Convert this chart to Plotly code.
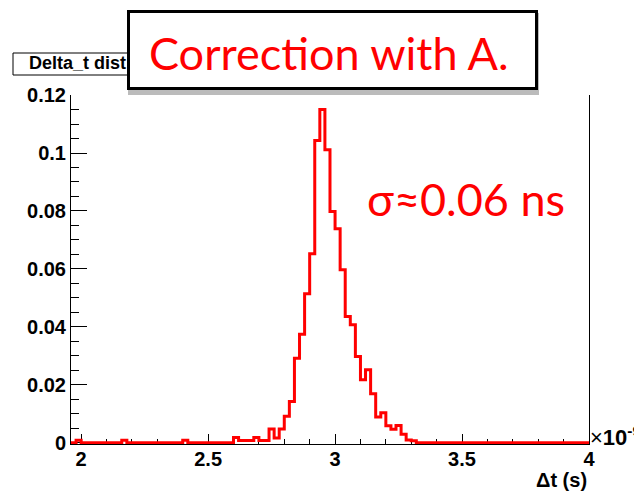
import numpy as np
import plotly.graph_objects as go

# ---- data ----
bin_start = 1.96          # x10^-9 s
bin_width = 0.02
density = [
    0, 0.0009, 0, 0, 0, 0, 0, 0, 0, 0,                                   # 1.96 .. 2.14
    0.0009, 0, 0, 0, 0, 0, 0, 0, 0, 0,                                   # 2.16 .. 2.34
    0, 0, 0.0009, 0, 0, 0, 0, 0, 0, 0,                                   # 2.36 .. 2.54
    0, 0, 0.0018, 0.0008, 0.0008, 0.0008, 0.0018, 0.0008, 0.0008, 0.0048, # 2.56 .. 2.74
    0.0017, 0.0048, 0.0092, 0.0143, 0.0292, 0.0375, 0.0514, 0.0652, 0.1043, 0.1150,  # 2.76 .. 2.94
    0.1011, 0.0798, 0.0739, 0.0597, 0.0436, 0.0407, 0.0298, 0.0218, 0.0252, 0.0169,  # 2.96 .. 3.14
    0.0089, 0.0104, 0.0059, 0.0047, 0.0060, 0.0030, 0.0010, 0.0007, 0, 0,            # 3.16 .. 3.34
    0, 0, 0, 0, 0, 0, 0, 0, 0, 0,
    0, 0, 0, 0, 0, 0, 0, 0, 0, 0,
    0, 0, 0, 0, 0, 0, 0, 0, 0, 0,
    0, 0,
]
x_ticks = [2, 2.5, 3, 3.5, 4]
x_ticktext = ["2", "2.5", "3", "3.5", "4"]
y_ticks = [0, 0.02, 0.04, 0.06, 0.08, 0.1, 0.12]
y_ticktext = ["0", "0.02", "0.04", "0.06", "0.08", "0.1", "0.12"]
title_text = "Delta_t dist"
overlay_text = "Correction with A."
sigma_text = "σ≈0.06 ns"
x_title = "Δt (s)"

edges = bin_start + bin_width * np.arange(len(density) + 1)
yvals = list(density) + [density[-1]]

W, H = 634, 491
L, R, T, B = 71, 45, 95, 47
pw, ph = W - L - R, H - T - B

def px(x):
    return (x - L) / pw

def py(y):
    return (H - B - y) / ph

fig = go.Figure()
fig.add_trace(go.Scatter(
    x=edges, y=yvals, mode="lines",
    line=dict(color="#ff0000", width=3, shape="hv"),
    hoverinfo="skip", showlegend=False,
))

tickfont = dict(family="Liberation Sans", size=20, color="black", weight="bold")

fig.update_xaxes(
    range=[1.96, 4.0001], tickmode="array", tickvals=x_ticks, ticktext=x_ticktext,
    ticks="inside", ticklen=10, tickwidth=1, tickcolor="black",
    showline=True, linecolor="black", linewidth=1, showgrid=False, zeroline=False,
    minor=dict(ticks="inside", ticklen=5, tickmode="linear", tick0=2, dtick=0.1,
               tickcolor="black", showgrid=False),
    tickfont=tickfont, layer="below traces", ticklabelstandoff=-3,
)
fig.update_yaxes(
    range=[-0.0004, 0.12001], tickmode="array", tickvals=y_ticks, ticktext=y_ticktext,
    ticks="inside", ticklen=16, tickwidth=1, tickcolor="black",
    showline=True, linecolor="black", linewidth=1, mirror=True,
    showgrid=False, zeroline=False,
    minor=dict(ticks="inside", ticklen=8, tickmode="linear", tick0=0, dtick=0.005,
               tickcolor="black", showgrid=False),
    tickfont=tickfont, layer="below traces", ticklabelstandoff=0,
)

shapes = [
    # title box
    dict(type="rect", xref="paper", yref="paper",
         x0=px(13), x1=px(200), y0=py(75), y1=py(53),
         line=dict(color="black", width=1), fillcolor="white", layer="above"),
    # shadow of overlay box
    dict(type="rect", xref="paper", yref="paper",
         x0=px(128), x1=px(539), y0=py(95), y1=py(13),
         line=dict(width=0), fillcolor="rgba(120,120,120,0.5)", layer="above"),
    # overlay box
    dict(type="rect", xref="paper", yref="paper",
         x0=px(128.5), x1=px(536.5), y0=py(88.5), y1=py(11.5),
         line=dict(color="black", width=3), fillcolor="white", layer="above"),
]

annotations = [
    dict(text=title_text, xref="paper", yref="paper", x=px(27), y=py(63),
         xanchor="left", yanchor="middle", showarrow=False,
         font=dict(family="Liberation Sans", size=18, color="black", weight="bold")),
    dict(text=overlay_text, xref="paper", yref="paper", x=px(329), y=py(53),
         xanchor="center", yanchor="middle", showarrow=False,
         font=dict(family="Lato", size=45, color="#ff0000")),
    dict(text=sigma_text, xref="paper", yref="paper", x=px(466), y=py(199),
         xanchor="center", yanchor="middle", showarrow=False,
         font=dict(family="Lato", size=45, color="#ff0000")),
    dict(text="×<b>10</b><sup><b>-9</b></sup>", xref="paper", yref="paper",
         x=px(588), y=py(436), xanchor="left", yanchor="middle", showarrow=False,
         font=dict(family="Liberation Sans", size=22, color="black")),
    dict(text=x_title, xref="paper", yref="paper", x=px(589), y=py(480),
         xanchor="right", yanchor="middle", showarrow=False,
         font=dict(family="Liberation Sans", size=20, color="black", weight="bold")),
]

fig.update_layout(
    width=W, height=H, margin=dict(l=L, r=R, t=T, b=B, pad=0),
    paper_bgcolor="white", plot_bgcolor="white",
    shapes=shapes, annotations=annotations, showlegend=False,
)

fig.write_html("out.html")
